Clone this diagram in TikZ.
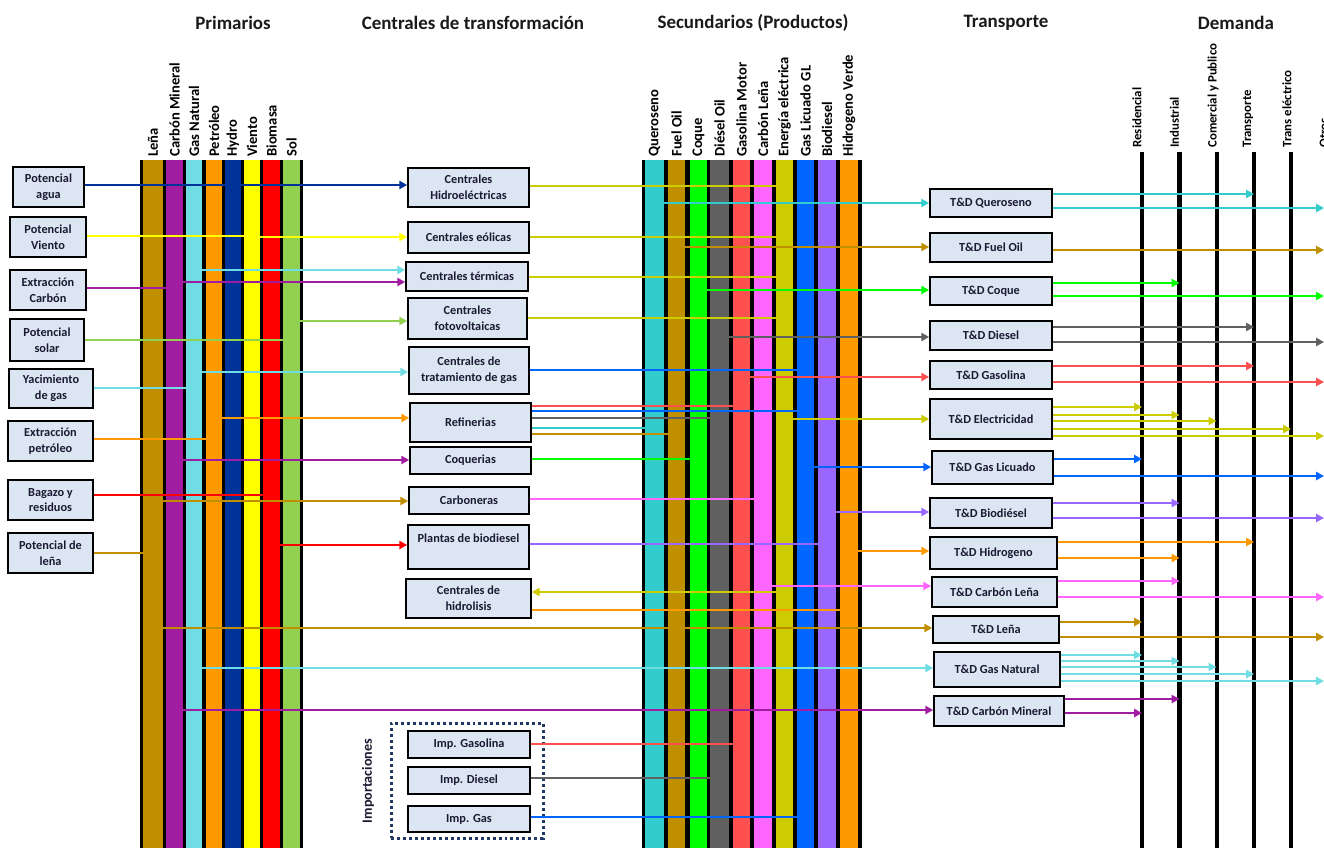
\documentclass[tikz,border=0pt]{standalone}
\usepackage{fontspec}
\setmainfont{Carlito}
\usetikzlibrary{arrows.meta,fit}
\definecolor{boxfill}{HTML}{DCE6F2}
\definecolor{hdrc}{HTML}{1A1A1A}
\definecolor{dotc}{HTML}{1F3864}
\definecolor{boxtxt}{HTML}{1A1A33}
\definecolor{kLena}{HTML}{BF8F00}
\definecolor{kCarb}{HTML}{A01CA0}
\definecolor{kGN}{HTML}{6FDDE3}
\definecolor{kPet}{HTML}{FF9900}
\definecolor{kHyd}{HTML}{003399}
\definecolor{kVie}{HTML}{FFFF00}
\definecolor{kBio}{HTML}{FF0000}
\definecolor{kSol}{HTML}{92D050}
\definecolor{kQue}{HTML}{33CCCC}
\definecolor{kFO}{HTML}{BF8F00}
\definecolor{kCoq}{HTML}{00FF00}
\definecolor{kDie}{HTML}{606060}
\definecolor{kGas}{HTML}{FF5050}
\definecolor{kCL}{HTML}{FF66FF}
\definecolor{kElec}{HTML}{CCCC00}
\definecolor{kGLP}{HTML}{0066FF}
\definecolor{kBD}{HTML}{9966FF}
\definecolor{kH}{HTML}{FF9900}
\newcommand\bx[6]{%
  \pgfmathsetmacro\bxw{(#4-#2)*0.02}%
  \pgfmathsetmacro\bxh{(#5-#3)*0.02}%
  \node[box, minimum width=\bxw cm, minimum height=\bxh cm] (#1) at ({(#2+#4)/2},{(#3+#5)/2}) {#6};}
\newcommand\vb[4]{\node[fill=#2, inner sep=0pt, fit={(#3,160) (#4,848)}] (#1) {};}
\newcommand\cnx[4]{\draw[#1] (#2 |- 0,#4) -- (#3 |- 0,#4);}
\begin{document}
\begin{tikzpicture}[x=0.02cm, y=-0.02cm,
 box/.style={draw=black, line width=0.9pt, fill=boxfill, inner sep=0pt, align=center, text=boxtxt, font=\bfseries\fontsize{7}{9}\selectfont},
 vlab/.style={rotate=90, anchor=west, inner sep=1.5pt, font=\bfseries\fontsize{8.3}{10}\selectfont},
 dlab/.style={rotate=90, anchor=west, inner sep=2.3pt, font=\bfseries\fontsize{7.3}{9}\selectfont},
 hdr/.style={font=\bfseries\fontsize{10.8}{13}\selectfont, text=hdrc},
 ln/.style={line width=1.5pt},
 arr/.style={line width=1.5pt, -{Triangle[length=4.5pt,width=4.6pt]}},
 dline/.style={line width=2.3pt, black},
 dotbox/.style={draw=dotc, line width=1.7pt, dash pattern=on 1.7pt off 1.7pt, inner sep=0pt}]
\useasboundingbox (0,0) rectangle (1324,848);
\clip (0,0) rectangle (1324,848);
\fill[white] (0,0) rectangle (1324,848);
% headers
\node[hdr] (hPrim) at (233,23) {Primarios};
\node[hdr] (hCent) at (473,23) {Centrales de transformación};
\node[hdr] (hSec) at (753,23) {Secundarios (Productos)};
\node[hdr] (hTra) at (1006,23) {Transporte};
\node[hdr] (hDem) at (1236,23) {Demanda};
% primary bars
\fill[black] (140,160) rectangle (303,848);
\vb{bLena}{kLena}{143}{163}
\vb{bCarb}{kCarb}{166}{183}
\vb{bGN}{kGN}{186}{202}
\vb{bPet}{kPet}{206}{222}
\vb{bHyd}{kHyd}{225}{241}
\vb{bVie}{kVie}{244}{260}
\vb{bBio}{kBio}{263}{280}
\vb{bSol}{kSol}{283}{300}
\node[vlab] at (bLena.north) {Leña};
\node[vlab] at (bCarb.north) {Carbón Mineral};
\node[vlab] at (bGN.north) {Gas Natural};
\node[vlab] at (bPet.north) {Petróleo};
\node[vlab] at (bHyd.north) {Hydro};
\node[vlab] at (bVie.north) {Viento};
\node[vlab] at (bBio.north) {Biomasa};
\node[vlab] at (bSol.north) {Sol};
% secondary bars
\fill[black] (642,160) rectangle (862,848);
\vb{sQue}{kQue}{645}{664}
\vb{sFO}{kFO}{668}{685}
\vb{sCoq}{kCoq}{690}{707}
\vb{sDie}{kDie}{710}{729}
\vb{sGas}{kGas}{733}{750}
\vb{sCL}{kCL}{754}{772}
\vb{sElec}{kElec}{776}{793}
\vb{sGLP}{kGLP}{797}{814}
\vb{sBD}{kBD}{818}{836}
\vb{sH}{kH}{840}{858}
\node[vlab] at (sQue.north) {Queroseno};
\node[vlab] at (sFO.north) {Fuel Oil};
\node[vlab] at (sCoq.north) {Coque};
\node[vlab] at (sDie.north) {Diésel Oil};
\node[vlab] at (sGas.north) {Gasolina Motor};
\node[vlab] at (sCL.north) {Carbón Leña};
\node[vlab] at (sElec.north) {Energía eléctrica};
\node[vlab] at (sGLP.north) {Gas Licuado GL};
\node[vlab] at (sBD.north) {Biodiesel};
\node[vlab] at (sH.north) {Hidrogeno Verde};
% demand lines
\coordinate (dRes) at (1142,152);
\coordinate (dInd) at (1179.5,152);
\coordinate (dCom) at (1216.5,152);
\coordinate (dTra) at (1254,152);
\coordinate (dTel) at (1291,152);
\coordinate (dOtr) at (1329,152);
\coordinate (edge) at (1324,0);
\foreach \d in {dRes,dInd,dCom,dTra,dTel,dOtr} {\draw[dline] (\d) -- (\d |- 0,848);}
\node[dlab] at ([xshift=-0.1cm]dRes) {Residencial};
\node[dlab] at ([xshift=-0.1cm]dInd) {Industrial};
\node[dlab] at ([xshift=-0.07cm]dCom) {Comercial y Publico};
\node[dlab] at ([xshift=-0.12cm]dTra) {Transporte};
\node[dlab] at ([xshift=-0.08cm]dTel) {Trans eléctrico};
\node[dlab] at ([xshift=-0.1cm]dOtr) {Otros};
% left boxes
\bx{pAgua}{13}{167}{84}{207}{Potencial\\agua}
\bx{pViento}{10}{217}{86}{257}{Potencial\\Viento}
\bx{pCarbon}{10}{270}{86}{310}{Extracción\\Carbón}
\bx{pSolar}{10}{319}{84}{361}{Potencial\\solar}
\bx{pGas}{9}{369}{93}{408}{Yacimiento\\de gas}
\bx{pPetro}{8}{421}{93}{461}{Extracción\\petróleo}
\bx{pBagazo}{8}{480}{93}{520}{Bagazo y\\residuos}
\bx{pLena}{8}{533}{93}{573}{Potencial de\\leña}
% central boxes
\bx{cHidro}{408}{168}{529}{207}{Centrales\\Hidroeléctricas}
\bx{cEol}{408}{222}{529}{253}{Centrales eólicas}
\bx{cTerm}{406}{262}{528}{291}{Centrales térmicas}
\bx{cFoto}{408}{298}{527}{339}{Centrales\\fotovoltaicas}
\bx{cTrat}{409}{347}{529}{394}{Centrales de\\tratamiento de gas}
\bx{cRef}{410}{403}{531}{442}{Refinerias}
\bx{cCoq}{410}{447}{531}{474}{Coquerias}
\bx{cCarb}{409}{487}{529}{514}{Carboneras}
\bx{cBio}{408}{525}{529}{569}{Plantas de biodiesel\\[1pt]\phantom{X}}
\bx{cHidrol}{406}{579}{531}{618}{Centrales de\\hidrolisis}
% imports
\node[dotbox, fit={(391,723) (543,838)}] (imp) {};
\node[rotate=90, font=\bfseries\fontsize{8}{10}\selectfont, text=boxtxt] (impl) at (368,781) {Importaciones};
\bx{iGasol}{408}{731}{530}{758}{Imp. Gasolina}
\bx{iDie}{408}{767}{530}{794}{Imp. Diesel}
\bx{iGas}{408}{806}{530}{832}{Imp. Gas}
% T&D boxes
\bx{tdQ}{930}{189}{1052}{217}{T\&D Queroseno}
\bx{tdFO}{930}{233}{1052}{262}{T\&D Fuel Oil}
\bx{tdCoq}{930}{277}{1052}{305}{T\&D Coque}
\bx{tdDie}{930}{321}{1052}{350}{T\&D Diesel}
\bx{tdGas}{930}{361}{1052}{389}{T\&D Gasolina}
\bx{tdEl}{930}{399}{1052}{439}{T\&D Electricidad}
\bx{tdGLP}{932}{451}{1053}{484}{T\&D Gas Licuado}
\bx{tdBD}{930}{498}{1052}{528}{T\&D Biodiésel}
\bx{tdH}{930}{537}{1057}{569}{T\&D Hidrogeno}
\bx{tdCL}{932}{577}{1057}{607}{T\&D Carbón Leña}
\bx{tdLena}{933}{616}{1059}{643}{T\&D Leña}
\bx{tdGN}{934}{652}{1060}{687}{T\&D Gas Natural}
\bx{tdCM}{934}{696}{1064}{726}{T\&D Carbón Mineral}
% sources -> primary bars
\cnx{arr,kHyd}{pAgua.east}{cHidro.west}{185}
\cnx{ln,kVie}{pViento.east}{bVie.west}{236}
\cnx{ln,kCarb}{pCarbon.east}{bCarb.west}{288}
\cnx{ln,kSol}{pSolar.east}{bSol.west}{340}
\cnx{ln,kGN}{pGas.east}{bGN.west}{388}
\cnx{ln,kPet}{pPetro.east}{bPet.west}{439}
\cnx{ln,kBio}{pBagazo.east}{bBio.west}{495}
\cnx{ln,kLena}{pLena.east}{bLena.west}{553}
% primary bars -> centrales
\cnx{arr,kVie}{bVie.east}{cEol.west}{237}
\cnx{arr,kGN}{bGN.east}{cTerm.west}{270}
\cnx{arr,kCarb}{bCarb.east}{cTerm.west}{282}
\cnx{arr,kSol}{bSol.east}{cFoto.west}{321}
\cnx{arr,kGN}{bGN.east}{cTrat.west}{372}
\cnx{arr,kPet}{bPet.east}{cRef.west}{418}
\cnx{arr,kCarb}{bCarb.east}{cCoq.west}{460}
\cnx{arr,kLena}{bLena.east}{cCarb.west}{501}
\cnx{arr,kBio}{bBio.east}{cBio.west}{545}
% primary bars -> T&D
\cnx{arr,kLena}{bLena.east}{tdLena.west}{628}
\cnx{arr,kGN}{bGN.east}{tdGN.west}{668}
\cnx{arr,kCarb}{bCarb.east}{tdCM.west}{710}
% centrales -> secondary bars
\cnx{ln,kElec}{cHidro.east}{sElec.west}{186}
\cnx{ln,kElec}{cEol.east}{sElec.west}{237}
\cnx{ln,kElec}{cTerm.east}{sElec.west}{277}
\cnx{ln,kElec}{cFoto.east}{sElec.west}{318}
\cnx{ln,kGLP}{cTrat.east}{sGLP.west}{370}
\cnx{ln,kGas}{cRef.east}{sGas.west}{406}
\cnx{ln,kGLP}{cRef.east}{sGLP.west}{411}
\cnx{ln,kDie}{cRef.east}{sDie.west}{418}
\cnx{ln,kQue}{cRef.east}{sQue.west}{428}
\cnx{ln,kFO}{cRef.east}{sFO.west}{434}
\cnx{ln,kCoq}{cCoq.east}{sCoq.west}{459}
\cnx{ln,kCL}{cCarb.east}{sCL.west}{499}
\cnx{ln,kBD}{cBio.east}{sBD.west}{544}
\cnx{arr,kElec}{sElec.west}{cHidrol.east}{592}
\cnx{ln,kH}{cHidrol.east}{sH.west}{610}
\cnx{ln,kGas}{iGasol.east}{sGas.west}{744}
\cnx{ln,kDie}{iDie.east}{sDie.west}{778}
\cnx{ln,kGLP}{iGas.east}{sGLP.west}{817}
% secondary bars -> T&D
\cnx{arr,kQue}{sQue.east}{tdQ.west}{203}
\cnx{arr,kFO}{sFO.east}{tdFO.west}{247}
\cnx{arr,kCoq}{sCoq.east}{tdCoq.west}{290}
\cnx{arr,kDie}{sDie.east}{tdDie.west}{337}
\cnx{arr,kGas}{sGas.east}{tdGas.west}{377}
\cnx{arr,kElec}{sElec.east}{tdEl.west}{419}
\cnx{arr,kGLP}{sGLP.east}{tdGLP.west}{467}
\cnx{arr,kBD}{sBD.east}{tdBD.west}{512}
\cnx{arr,kH}{sH.east}{tdH.west}{551}
\cnx{arr,kCL}{sCL.east}{tdCL.west}{586}
% T&D -> demand
\cnx{arr,kQue}{tdQ.east}{dTra}{194}
\cnx{arr,kQue}{tdQ.east}{edge}{208}
\cnx{arr,kFO}{tdFO.east}{edge}{250}
\cnx{arr,kCoq}{tdCoq.east}{dInd}{283}
\cnx{arr,kCoq}{tdCoq.east}{edge}{296}
\cnx{arr,kDie}{tdDie.east}{dTra}{327}
\cnx{arr,kDie}{tdDie.east}{edge}{342}
\cnx{arr,kGas}{tdGas.east}{dTra}{366}
\cnx{arr,kGas}{tdGas.east}{edge}{382}
\cnx{arr,kElec}{tdEl.east}{dRes}{407}
\cnx{arr,kElec}{tdEl.east}{dInd}{415}
\cnx{arr,kElec}{tdEl.east}{dCom}{421}
\cnx{arr,kElec}{tdEl.east}{dTel}{429}
\cnx{arr,kElec}{tdEl.east}{edge}{436}
\cnx{arr,kGLP}{tdGLP.east}{dRes}{459}
\cnx{arr,kGLP}{tdGLP.east}{edge}{476}
\cnx{arr,kBD}{tdBD.east}{dInd}{503}
\cnx{arr,kBD}{tdBD.east}{edge}{518}
\cnx{arr,kH}{tdH.east}{dTra}{542}
\cnx{arr,kH}{tdH.east}{dInd}{558}
\cnx{arr,kCL}{tdCL.east}{dInd}{581}
\cnx{arr,kCL}{tdCL.east}{edge}{597}
\cnx{arr,kLena}{tdLena.east}{dRes}{622}
\cnx{arr,kLena}{tdLena.east}{edge}{637}
\cnx{arr,kGN}{tdGN.east}{dRes}{655}
\cnx{arr,kGN}{tdGN.east}{dInd}{661}
\cnx{arr,kGN}{tdGN.east}{dCom}{667}
\cnx{arr,kGN}{tdGN.east}{dTra}{674}
\cnx{arr,kGN}{tdGN.east}{edge}{681}
\cnx{arr,kCarb}{tdCM.east}{dInd}{699}
\cnx{arr,kCarb}{tdCM.east}{dRes}{713}
\end{tikzpicture}
\end{document}
